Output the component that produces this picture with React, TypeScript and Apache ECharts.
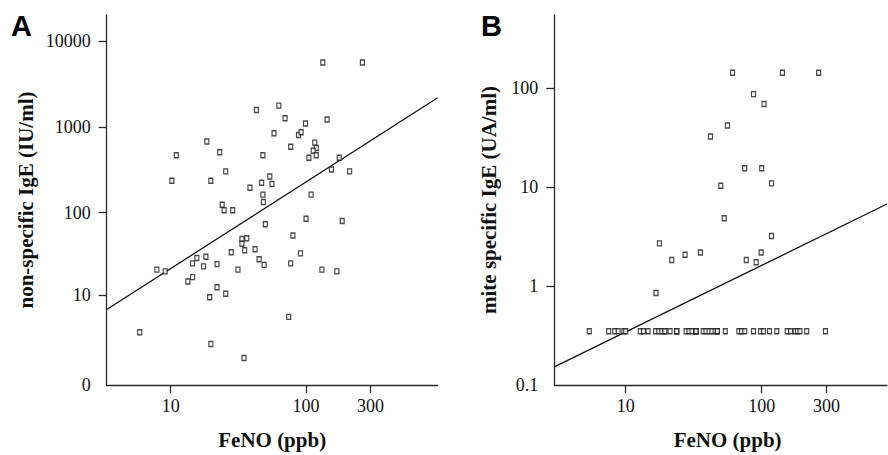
import React, { useEffect, useRef } from "react";
import * as echarts from "echarts";

// Panel A: FeNO (ppb) vs non-specific IgE (IU/ml)
const feNOA = [133, 261, 43, 63, 70, 143, 99, 58, 88, 92, 18.5, 116, 119, 113, 119, 77, 23, 11, 48, 105, 176, 154, 210, 25.5, 10.2, 19.8, 54, 47, 56, 38.5, 48, 109, 48.4, 24, 24.8, 28.7, 100, 185, 50,
  80, 36.5, 33.6, 33.6, 35.2, 42, 28, 91, 18.2, 15.6, 45, 14.5, 22, 49, 77, 17.5, 7.9, 9.1, 31.4, 131, 169, 14.5, 13.4, 22, 19.4, 25.5, 74.5, 5.9, 19.8, 34.8];
const igeA = [5660, 5660, 1580, 1780, 1270, 1230, 1100, 850, 810, 870, 680, 660, 570, 530, 470, 590, 510, 470, 470, 440, 440, 320, 305, 305, 237, 237, 266, 225, 217, 196, 163, 163, 134, 124, 107, 107, 85, 80, 73,
  54, 50, 49, 43, 36, 37, 34, 33, 30, 29, 28, 25, 24.5, 24, 25, 23, 21, 20, 21, 21, 20, 17, 15, 12.7, 9.5, 10.5, 5.2, 3.1, 2.0, 1.06];
// regression in log space: log10(IgE+1) = a + b*log10(FeNO)
const fitA = [0.348, 1.007];

// Panel B: FeNO (ppb) vs mite specific IgE (UA/ml)
const feNOB = [61, 142, 262, 87, 104, 56, 42, 75, 100, 50, 118, 53, 118, 17.7, 21.8, 27.3, 35.4, 77, 91, 99, 16.7,
  5.4, 7.5, 8.3, 8.8, 9.7, 10, 12.8, 13.5, 14.6, 16.6, 17.5, 18.4, 19.4, 19.4, 21.2, 23.7, 23.7, 23.7, 27.8, 29.2, 30.7, 32.9, 32.9, 32.9,
  37.2, 38.9, 41, 43.1, 45.4, 47.2, 47.2, 54, 68, 71, 75, 87, 98, 103, 114, 129, 154, 163, 176, 183, 191, 214, 294];
const miteB = [143, 143, 143, 87, 69, 42, 32.5, 15.5, 15.5, 10.3, 10.9, 4.85, 3.2, 2.7, 1.83, 2.07, 2.18, 1.83, 1.74, 2.18, 0.85,
  0.35, 0.35, 0.35, 0.35, 0.35, 0.35, 0.35, 0.35, 0.35, 0.35, 0.35, 0.35, 0.35, 0.35, 0.35, 0.35, 0.35, 0.35, 0.35, 0.35, 0.35, 0.35, 0.35, 0.35,
  0.35, 0.35, 0.35, 0.35, 0.35, 0.35, 0.35, 0.35, 0.35, 0.35, 0.35, 0.35, 0.35, 0.35, 0.35, 0.35, 0.35, 0.35, 0.35, 0.35, 0.35, 0.35, 0.35];
// regression in log space: log10(mite IgE) = a + b*log10(FeNO)
const fitB = [-1.137, 0.673];

// tick labels
const xTicks = [10, 100, 300];
const yTicksA = [0, 10, 100, 1000, 10000];
const yTicksB = [0.1, 1, 10, 100];

// axis ranges (log10 space)
const xRangeA = [0.527, 2.973];
const yRangeA = [0, 4.305];
const xRangeB = [0.475, 2.921];
const yRangeB = [-1, 2.739];

const SERIF = "'Liberation Serif', 'Times New Roman', serif";
const lg = Math.log10;

export default function App() {
  const ref = useRef<HTMLDivElement>(null);
  useEffect(() => {
    if (!ref.current) return;
    const chart = echarts.init(ref.current, undefined, { renderer: "svg" });
    const axisLine = { show: true, onZero: false, lineStyle: { color: "#2a2a2a", width: 1.3 } };
    const tickStyle = { color: "#2a2a2a", width: 1.3 };
    const labelStyle = { fontFamily: SERIF, fontSize: 18, color: "#111" };
    const nameStyle = { fontFamily: SERIF, fontSize: 21, fontWeight: "bold" as const, color: "#111" };

    const xAxisCommon = (idx: number, range: number[], shift: number) => ({
      type: "value" as const,
      gridIndex: idx,
      min: range[0],
      max: range[1],
      name: "FeNO (ppb)",
      nameLocation: "middle" as const,
      nameGap: 44,
      nameTextStyle: { ...nameStyle, padding: [0, 0, 0, shift] },
      axisLine,
      splitLine: { show: false },
      axisTick: { show: true, length: 8, lineStyle: tickStyle, customValues: xTicks.map(lg) },
      axisLabel: {
        ...labelStyle,
        margin: 12,
        customValues: xTicks.map(lg),
        formatter: (v: number) => String(Math.round(Math.pow(10, v))),
      },
    });

    const markerStyle = { color: "#fff", borderColor: "#1a1a1a", borderWidth: 1.3 };

    const option = {
      animation: false,
      grid: [
        { left: 106.7, top: 15, right: 888 - 437.7, bottom: 455 - 391.7 },
        { left: 554.3, top: 15, right: 1, bottom: 455 - 392 },
      ],
      xAxis: [xAxisCommon(0, xRangeA, 0), xAxisCommon(1, xRangeB, 14)],
      yAxis: [
        {
          type: "value",
          gridIndex: 0,
          min: yRangeA[0],
          max: yRangeA[1],
          name: "non-specific IgE (IU/ml)",
          nameLocation: "middle",
          nameRotate: 90,
          nameGap: 70,
          nameTextStyle: nameStyle,
          axisLine,
          splitLine: { show: false },
          axisTick: { show: true, length: 8, lineStyle: tickStyle, customValues: yTicksA.slice(1).map((v) => lg(v + 1)) },
          axisLabel: {
            ...labelStyle,
            margin: 16,
            customValues: yTicksA.map((v) => lg(v + 1)),
            formatter: (v: number) => String(Math.round(Math.pow(10, v) - 1)),
          },
        },
        {
          type: "value",
          gridIndex: 1,
          min: yRangeB[0],
          max: yRangeB[1],
          name: "mite specific IgE (UA/ml)",
          nameLocation: "middle",
          nameRotate: 90,
          nameGap: 55,
          nameTextStyle: nameStyle,
          axisLine,
          splitLine: { show: false },
          axisTick: { show: true, length: 8, lineStyle: tickStyle, customValues: yTicksB.slice(1).map(lg) },
          axisLabel: {
            ...labelStyle,
            margin: 16,
            customValues: yTicksB.map(lg),
            formatter: (v: number) => String(Number(Math.pow(10, v).toPrecision(1))),
          },
        },
      ],
      series: [
        {
          type: "scatter",
          xAxisIndex: 0,
          yAxisIndex: 0,
          symbol: "rect",
          symbolSize: [4, 5],
          itemStyle: markerStyle,
          data: feNOA.map((x, i) => [lg(x), lg(igeA[i] + 1)]),
          z: 3,
        },
        {
          type: "line",
          xAxisIndex: 0,
          yAxisIndex: 0,
          symbol: "none",
          lineStyle: { color: "#111", width: 1.3 },
          data: xRangeA.map((x) => [x, fitA[0] + fitA[1] * x]),
          z: 2,
        },
        {
          type: "scatter",
          xAxisIndex: 1,
          yAxisIndex: 1,
          symbol: "rect",
          symbolSize: [4, 5],
          itemStyle: markerStyle,
          data: feNOB.map((x, i) => [lg(x), lg(miteB[i])]),
          z: 3,
        },
        {
          type: "line",
          xAxisIndex: 1,
          yAxisIndex: 1,
          symbol: "none",
          lineStyle: { color: "#111", width: 1.3 },
          data: xRangeB.map((x) => [x, fitB[0] + fitB[1] * x]),
          z: 2,
        },
      ],
      graphic: [
        { type: "text", left: 11, top: 11, style: { text: "A", fontFamily: "'Liberation Sans', Arial, sans-serif", fontWeight: "bold", fontSize: 29, fill: "#000" } },
        { type: "text", left: 481, top: 11, style: { text: "B", fontFamily: "'Liberation Sans', Arial, sans-serif", fontWeight: "bold", fontSize: 29, fill: "#000" } },
      ],
    };
    chart.setOption(option as any);
    return () => chart.dispose();
  }, []);
  return <div ref={ref} style={{ position: "fixed", left: 0, top: 0, width: 888, height: 455, background: "#fff" }} />;
}
